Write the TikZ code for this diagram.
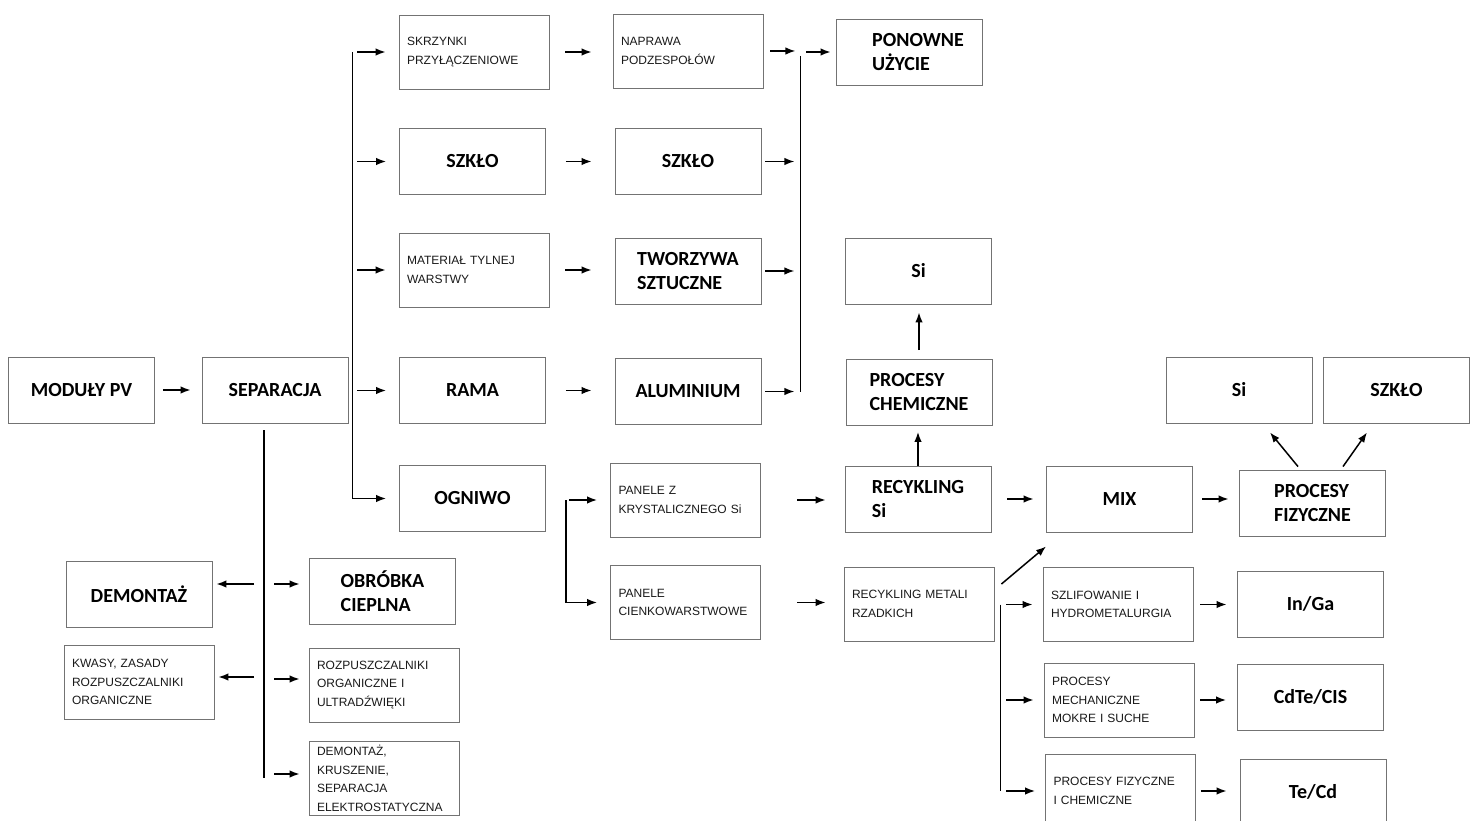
\documentclass[tikz,border=0pt]{standalone}
\usepackage{fontspec}
\newfontfamily\calfam{Carlito}
\newfontfamily\arfam{Liberation Sans}
\usetikzlibrary{arrows.meta,calc}
\begin{document}
\begin{tikzpicture}[x=1pt,y=-1pt,
 bbox/.style={draw=black!55, line width=0.9pt, minimum width=146pt, minimum height=66pt, inner sep=0pt, align=left, text=black, font=\calfam\bfseries\fontsize{20}{24}\selectfont},
 sbox/.style={draw=black!55, line width=0.9pt, minimum height=74pt, inner xsep=8pt, inner ysep=0pt, text width=134pt, align=left, text=black!90, font=\arfam\fontsize{12}{18.5}\selectfont},
 arr/.style={-{Latex[length=10pt,width=7.5pt]}, line width=1.5pt},
 bus/.style={line width=1.3pt}]
\path[use as bounding box, fill=white] (0,0) rectangle (1480,821);

% nodes
\node[bbox] (mod) at (81.5,390) {MODUŁY PV};
\node[bbox] (sep) at (275,390) {SEPARACJA};
\node[sbox] (sk) at (474,52) {SKRZYNKI\\PRZYŁĄCZENIOWE};
\node[bbox] (sz1) at (472.5,161.5) {SZKŁO};
\node[sbox] (mat) at (474,270) {MATERIAŁ TYLNEJ\\WARSTWY};
\node[bbox] (rama) at (472.5,390.5) {RAMA};
\node[bbox] (og) at (472.5,498.5) {OGNIWO};
\node[sbox] (nap) at (688,51) {NAPRAWA\\PODZESPOŁÓW};
\node[bbox] (sz2) at (688,161.5) {SZKŁO};
\node[bbox] (two) at (688,271) {TWORZYWA\\SZTUCZNE};
\node[bbox] (alu) at (688,391.5) {ALUMINIUM};
\node[bbox] (pon) at (909,52) {\hspace*{18pt}PONOWNE\\\hspace*{18pt}UŻYCIE};
\node[bbox] (sit) at (918.5,271) {Si};
\node[bbox] (pch) at (919,392.5) {PROCESY\\CHEMICZNE};
\node[bbox] (rs) at (918,499) {RECYKLING\\Si};
\node[sbox] (pz) at (685.5,500) {PANELE Z\\KRYSTALICZNEGO Si};
\node[sbox] (pc) at (685.5,602.5) {PANELE\\CIENKOWARSTWOWE};
\node[sbox] (rm) at (919,604) {RECYKLING METALI\\RZADKICH};
\node[bbox] (mix) at (1119.5,499) {MIX};
\node[bbox] (pf) at (1312.5,503) {PROCESY\\FIZYCZNE};
\node[bbox] (sir) at (1239,390) {Si};
\node[bbox] (szr) at (1396.5,390) {SZKŁO};
\node[sbox] (szl) at (1118,604.5) {SZLIFOWANIE I\\HYDROMETALURGIA};
\node[bbox] (ig) at (1310.5,604) {In/Ga};
\node[sbox] (pms) at (1119,700) {PROCESY\\MECHANICZNE\\MOKRE I SUCHE};
\node[bbox] (cd) at (1310.5,697) {CdTe/CIS};
\node[sbox] (pfc) at (1120.5,791) {PROCESY FIZYCZNE\\I CHEMICZNE};
\node[bbox] (tc) at (1313,792) {Te/Cd};
\node[bbox] (dem) at (139,594) {DEMONTAŻ};
\node[sbox] (kw) at (139,682) {KWASY, ZASADY\\ROZPUSZCZALNIKI\\ORGANICZNE};
\node[bbox] (obr) at (382.5,591.5) {OBRÓBKA\\CIEPLNA};
\node[sbox] (roz) at (384,685) {ROZPUSZCZALNIKI\\ORGANICZNE I\\ULTRADŹWIĘKI};
\node[sbox] (dk) at (384,778.5) {DEMONTAŻ,\\KRUSZENIE,\\SEPARACJA\\ELEKTROSTATYCZNA};

% bus coordinates
\coordinate (bA) at ($(sep.east)+(4,0)$);
\coordinate (bBt) at ($(sep.south)+(-11,7)$);
\coordinate (bBb) at ($(sep.south)+(-11,355)$);
\coordinate (bC) at ($(alu.east)+(39,0)$);
\coordinate (bD) at ($(og.east)+(20,0)$);
\coordinate (bE) at ($(rm.east)+(6,0)$);
\coordinate (demA) at ([yshift=10pt]dem.east);
\coordinate (kwA) at ([yshift=5pt]kw.east);
\coordinate (obrA) at ([yshift=7.5pt]obr.west);
\coordinate (rozA) at ([yshift=6pt]roz.west);
\coordinate (dkA) at ([yshift=4.5pt]dk.west);

% main flow
\draw[arr, shorten <=8pt, shorten >=11pt] (mod) -- (sep);

% bus A
\draw[bus] (bA |- sk.west) -- (bA |- og.west);
\foreach \n in {sk,sz1,mat,rama}
  \draw[arr, shorten <=5pt, shorten >=13pt] (bA |- \n.west) -- (\n.west);
\draw[arr, shorten >=13pt] (bA |- og.west) -- (og.west);

% bus B
\draw[bus] (bBt) -- (bBb);
\draw[arr, shorten <=10pt, shorten >=4pt] (demA -| bBt) -- (demA);
\draw[arr, shorten <=10pt, shorten >=4pt] (kwA -| bBt) -- (kwA);
\draw[arr, shorten <=10pt, shorten >=9.5pt] (obrA -| bBt) -- (obrA);
\draw[arr, shorten <=10pt, shorten >=9pt] (rozA -| bBt) -- (rozA);
\draw[arr, shorten <=10pt, shorten >=9pt] (dkA -| bBt) -- (dkA);

% column 1 -> column 2
\draw[arr, shorten <=16pt, shorten >=21pt] (sk.east) -- (sk.east -| nap.west);
\draw[arr, shorten <=20pt, shorten >=23pt] (sz1.east) -- (sz1.east -| sz2.west);
\draw[arr, shorten <=16pt, shorten >=23pt] (mat.east) -- (mat.east -| two.west);
\draw[arr, shorten <=20pt, shorten >=23pt] (rama.east) -- (rama.east -| alu.west);

% bus C
\draw[bus] ([yshift=-5pt]bC |- nap.east) -- (bC |- alu.east);
\draw[arr, shorten <=7pt, shorten >=5pt] (nap.east) -- (nap.east -| bC);
\foreach \n in {sz2,two,alu}
  \draw[arr, shorten <=4pt, shorten >=6pt] (\n.east) -- (\n.east -| bC);
\draw[arr, shorten <=6pt, shorten >=5pt] (bC |- pon.west) -- (pon.west);

% bus D
\draw[bus] (bD |- pz.west) -- (bD |- pc.west);
\draw[arr, shorten <=3pt, shorten >=13pt] (bD |- pz.west) -- (pz.west);
\draw[arr, shorten >=13pt] (bD |- pc.west) -- (pc.west);

% silicon branch
\draw[arr, shorten <=36.5pt, shorten >=19pt] (pz.east) -- (pz.east -| rs.west);
\draw[arr, shorten <=36.5pt, shorten >=18pt] (pc.east) -- (pc.east -| rm.west);
\draw[arr, shorten >=6pt] (rs.north) -- (rs.north |- pch.south);
\draw[arr, shorten <=9pt, shorten >=8pt] (pch.north) -- (pch.north |- sit.south);
\draw[arr, shorten <=16pt, shorten >=12.5pt] (rs.east) -- (rs.east -| mix.west);
\draw[arr, shorten <=9.5pt, shorten >=10.5pt] (mix.east) -- (mix.east -| pf.west);
\draw[arr] ($(pf.north)+(-14.5,-3)$) -- ($(sir.south)+(31,9)$);
\draw[arr] ($(pf.north)+(30.5,-3)$) -- ($(szr.south)+(-29.5,9)$);

% rare metals branch
\draw[arr] ($(rm.east)+(7,-20)$) -- ($(mix.south west)+(0,14)$);
\draw[bus] (bE |- szl.west) -- (bE |- pfc.west);
\foreach \n in {szl,pms,pfc}
  \draw[arr, shorten <=6pt, shorten >=10pt] (bE |- \n.west) -- (\n.west);
\draw[arr, shorten <=7pt, shorten >=10.5pt] (szl.east) -- (szl.east -| ig.west);
\draw[arr, shorten <=6pt, shorten >=11pt] (pms.east) -- (pms.east -| cd.west);
\draw[arr, shorten <=5pt, shorten >=13pt] (pfc.east) -- (pfc.east -| tc.west);
\end{tikzpicture}
\end{document}
